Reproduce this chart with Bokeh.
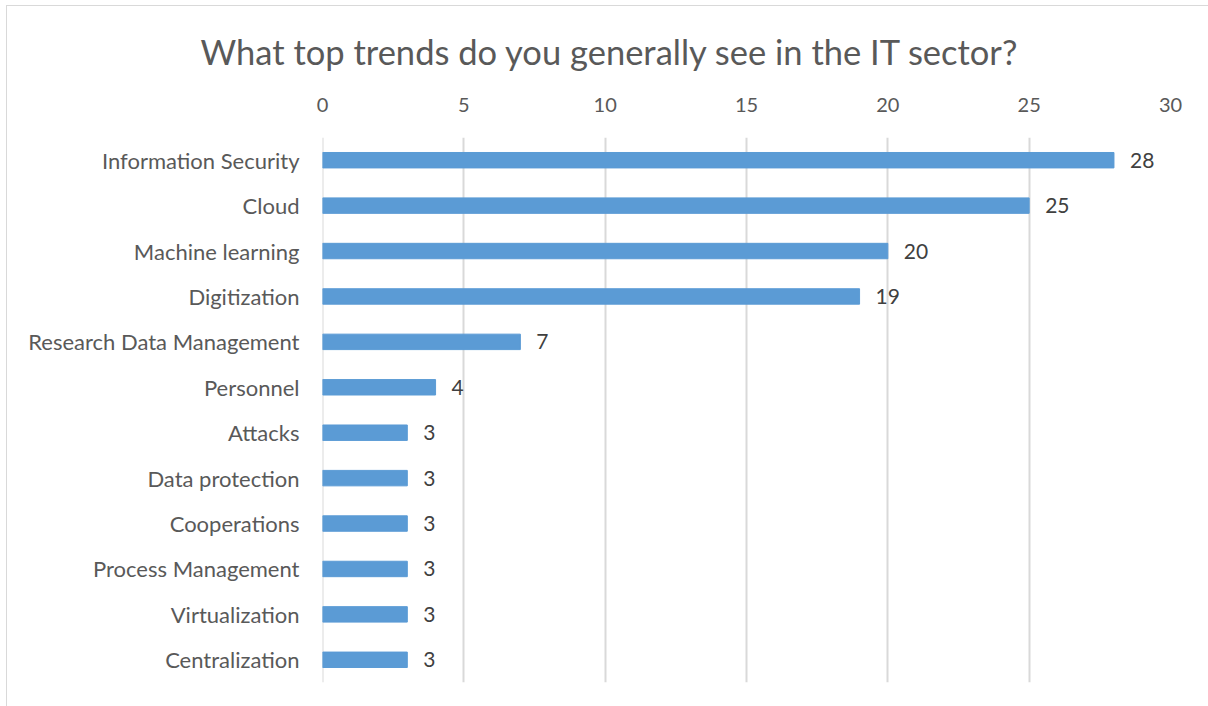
from bokeh.plotting import figure
from bokeh.models import ColumnDataSource, FactorRange, Range1d, Title, FixedTicker, Span
from bokeh.core.properties import value
from bokeh.embed import file_html
from bokeh.resources import INLINE

categories = ["Information Security", "Cloud", "Machine learning", "Digitization",
              "Research Data Management", "Personnel", "Attacks", "Data protection",
              "Cooperations", "Process Management", "Virtualization", "Centralization"]
counts = [28, 25, 20, 19, 7, 4, 3, 3, 3, 3, 3, 3]
x_ticks = [0, 5, 10, 15, 20, 25, 30]
title_text = "What top trends do you generally see in the IT sector?"

FONT = "Lato"
TXT = "#595959"

src = ColumnDataSource(dict(cat=categories, val=counts, lab=[str(v) for v in counts]))

W, H = 1204, 703
p = figure(width=W, height=H, output_backend="svg", toolbar_location=None,
           y_range=FactorRange(factors=list(reversed(categories)), range_padding=0),
           x_range=Range1d(0, 30), x_axis_location="above",
           min_border_left=315, min_border_right=41, min_border_top=131, min_border_bottom=27)
p.styles = {"margin-left": "6px", "margin-top": "5px", "border": "1px solid #d9d9d9"}
p.outline_line_color = None
p.background_fill_color = "white"
p.border_fill_color = "white"

p.xgrid.grid_line_color = "#D9D9D9"
p.xgrid.grid_line_width = 2
p.ygrid.grid_line_color = None
p.add_layout(Span(location=x_ticks[0], dimension="height", line_color="#D9D9D9",
                  line_width=2, level="underlay"))

p.hbar(y="cat", right="val", left=0, height=0.34, source=src,
       fill_color="#5B9BD5", line_color="#5B9BD5")
p.text(x="val", y="cat", text="lab", source=src, x_offset=16,
       text_font=value(FONT), text_font_size="21px", text_color="#404040",
       text_baseline="middle", text_align="left")

xa = p.xaxis[0]
xa.ticker = FixedTicker(ticks=x_ticks)
xa.axis_line_color = None
xa.major_tick_line_color = None
xa.minor_tick_line_color = None
xa.major_label_text_font = FONT
xa.major_label_text_font_size = "20px"
xa.major_label_text_color = TXT
xa.major_label_standoff = 20

ya = p.yaxis[0]
ya.axis_line_color = None
ya.major_tick_line_color = None
ya.minor_tick_line_color = None
ya.major_label_text_font = FONT
ya.major_label_text_font_size = "22px"
ya.major_label_text_color = TXT
ya.major_label_standoff = 17

p.add_layout(Title(text=title_text, align="left", offset=-122,
                   text_font=FONT, text_font_size="34.5px", text_color=TXT,
                   text_font_style="normal", standoff=45), "above")

open("out.html", "w").write(file_html(p, INLINE))
